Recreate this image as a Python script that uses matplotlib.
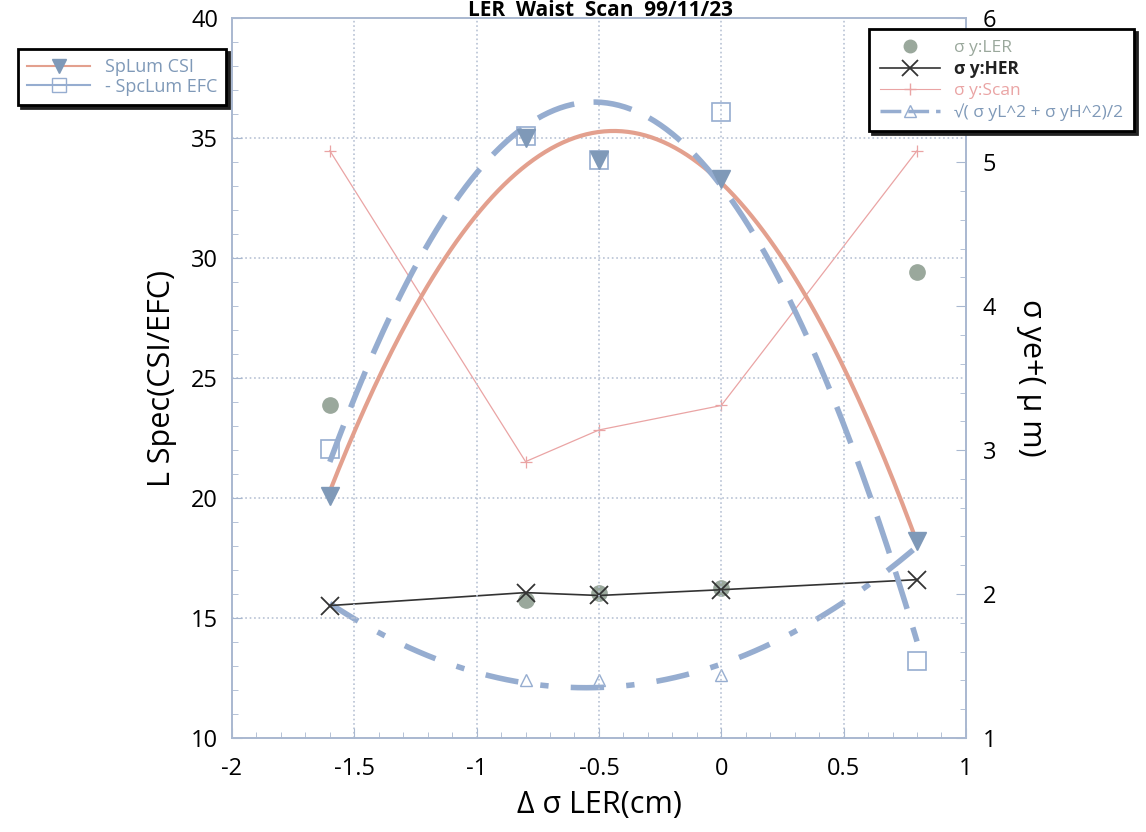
import numpy as np
import matplotlib
matplotlib.use("Agg")
import matplotlib.pyplot as plt
from matplotlib.lines import Line2D
from matplotlib.ticker import MultipleLocator, FormatStrFormatter

plt.rcParams['font.family'] = ['Open Sans', 'DejaVu Sans']
plt.rcParams['axes.unicode_minus'] = False

# waist offset of LER (cm)
dsig = [-1.6, -0.8, -0.5, 0.0, 0.8]

# specific luminosity, left axis
splum_csi = [20.1, 35.0, 34.1, 33.3, 18.2]
splum_efc = [22.05, 35.1, 34.1, 36.1, 13.2]

# vertical beam sizes (um), right axis
sy_ler = [3.31, 1.96, 2.01, 2.04, 4.24]
sy_her = [1.92, 2.01, 1.99, 2.03, 2.10]
sy_scan = [5.08, 2.92, 3.14, 3.31, 5.08]
sy_avg_x = [-0.8, -0.5, 0.0]
sy_avg = [1.40, 1.40, 1.44]
sy_avg_fit_pts = [1.92, 1.40, 1.40, 1.44, 2.35]

C_CSI = '#e3a08e'
C_EFC = '#96add0'
C_TRI = '#7f99b8'
C_LER = '#9aa89c'
C_SCAN = '#eaa4a4'
C_AXIS = '#a9b8d0'

fig = plt.figure(figsize=(11.46, 8.32), dpi=100)
ax = fig.add_axes([0.2024, 0.113, 0.6405, 0.865])
ax2 = ax.twinx()

xx = np.linspace(-1.6, 0.8, 200)

# quadratic fits
p_csi = np.polyfit(dsig, splum_csi, 2)
p_efc = np.polyfit(dsig, splum_efc, 2)
ax.plot(xx, np.polyval(p_csi, xx), color=C_CSI, lw=3, zorder=3)
ax.plot(xx, np.polyval(p_efc, xx), color=C_EFC, lw=4, dashes=(7, 3.5), zorder=3)
ax.plot(dsig, splum_efc, ls='none', marker='s', ms=13, mfc='none', mec=C_EFC, mew=1.2, zorder=4)
ax.plot(dsig, splum_csi, ls='none', marker='v', ms=13, color=C_TRI, zorder=5)

ax.set_xlim(-2, 1)
ax.set_ylim(10, 40)
ax2.set_ylim(1, 6)

p_avg = np.polyfit(dsig, sy_avg_fit_pts, 2)
ax2.plot(dsig, sy_scan, color=C_SCAN, lw=0.9, marker='+', ms=9, mew=0.9, zorder=2)
ax2.plot(xx, np.polyval(p_avg, xx), color=C_EFC, lw=4, dashes=(6, 4, 1.5, 4), zorder=3)
ax2.plot(dsig, sy_ler, ls='none', marker='o', ms=11, color=C_LER, zorder=4)
ax2.plot(dsig, sy_her, color='#333333', lw=1.2, marker='x', ms=13, mew=1.3, zorder=5)
ax2.plot(sy_avg_x, sy_avg, ls='none', marker='^', ms=9, mfc='none', mec=C_EFC, mew=1.0, zorder=4)

ax.set_zorder(ax2.get_zorder() + 1)
ax.patch.set_visible(False)

ax.xaxis.set_major_locator(MultipleLocator(0.5))
ax.xaxis.set_minor_locator(MultipleLocator(0.1))
ax.xaxis.set_major_formatter(FormatStrFormatter('%g'))
ax.yaxis.set_major_locator(MultipleLocator(5))
ax.yaxis.set_minor_locator(MultipleLocator(1))
ax2.yaxis.set_major_locator(MultipleLocator(1))
ax2.yaxis.set_minor_locator(MultipleLocator(0.2))

ax.grid(True, which='major', color='#b8c2d4', ls=':', lw=1.2)
for a in (ax, ax2):
    for s in a.spines.values():
        s.set_color(C_AXIS)
        s.set_linewidth(1.2)
    a.tick_params(which='both', direction='in', color=C_AXIS, labelsize=17)
    a.tick_params(which='major', length=7)
    a.tick_params(which='minor', length=4)
ax.tick_params(axis='x', pad=14)
ax.tick_params(axis='y', pad=10)
ax2.tick_params(axis='y', pad=12)

ax.set_xlabel('Δ σ LER(cm)', fontsize=22, labelpad=6)
ax.set_ylabel('L Spec(CSI/EFC)', fontsize=22, labelpad=10)
ax2.set_ylabel('σ ye+( μ m)', fontsize=22, rotation=270, labelpad=36)

fig.text(0.524, 1 - 16 / 832, 'LER  Waist  Scan  99/11/23', ha='center', va='baseline',
         fontsize=15, fontweight='bold')

h_left = [
    Line2D([], [], color=C_CSI, lw=1.5, marker='v', ms=10, mfc=C_TRI, mec=C_TRI),
    Line2D([], [], color=C_EFC, lw=1.5, marker='s', ms=10, mfc='none', mec=C_EFC),
]
leg1 = fig.legend(h_left, ['SpLum CSI', '- SpcLum EFC'], loc='upper left',
                  bbox_to_anchor=(0.008, 0.952), fontsize=13, frameon=True,
                  fancybox=False, shadow={'color': '#222222', 'alpha': 1.0},
                  handlelength=3.5, borderpad=0.5, labelspacing=0.1)
leg1.get_frame().set_edgecolor('black')
leg1.get_frame().set_linewidth(2)
for t in leg1.get_texts():
    t.set_color(C_TRI)

h_right = [
    Line2D([], [], ls='none', marker='o', ms=9, color=C_LER),
    Line2D([], [], color='#333333', lw=1.2, marker='x', ms=11, mew=1.3),
    Line2D([], [], color=C_SCAN, lw=0.8, marker='+', ms=8),
    Line2D([], [], color=C_EFC, lw=2.5, dashes=(6, 2), marker='^', ms=8, mfc='none', mec=C_EFC),
]
leg2 = fig.legend(h_right, ['σ y:LER', 'σ y:HER', 'σ y:Scan', '√( σ yL^2 + σ yH^2)/2'],
                  loc='upper right', bbox_to_anchor=(0.997, 0.975), fontsize=12.5,
                  frameon=True, fancybox=False, shadow={'color': '#222222', 'alpha': 1.0},
                  handlelength=3.5, borderpad=0.6, labelspacing=0.25)
leg2.get_frame().set_edgecolor('black')
leg2.get_frame().set_linewidth(2)
for t, c in zip(leg2.get_texts(), [C_LER, '#222222', C_SCAN, C_TRI]):
    t.set_color(c)
leg2.get_texts()[1].set_fontweight('bold')

fig.savefig('out.png', dpi=100, facecolor='white')
